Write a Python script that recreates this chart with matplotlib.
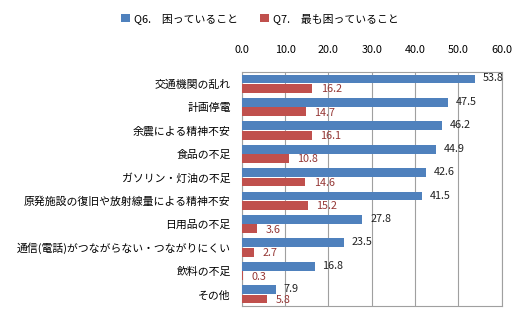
import matplotlib
matplotlib.use("Agg")
import matplotlib.pyplot as plt
import numpy as np

plt.rcParams['font.family'] = ['Noto Sans CJK JP', 'DejaVu Sans']

categories = ["交通機関の乱れ", "計画停電", "余震による精神不安", "食品の不足",
              "ガソリン・灯油の不足", "原発施設の復旧や放射線量による精神不安",
              "日用品の不足", "通信(電話)がつながらない・つながりにくい",
              "飲料の不足", "その他"]
q6 = [53.8, 47.5, 46.2, 44.9, 42.6, 41.5, 27.8, 23.5, 16.8, 7.9]
q7 = [16.2, 14.7, 16.1, 10.8, 14.6, 15.2, 3.6, 2.7, 0.3, 5.8]
series_names = ["Q6.　困っていること", "Q7.　最も困っていること"]
xticks = [0, 10, 20, 30, 40, 50, 60]

blue = "#4F81BD"
red = "#C0504D"

fig = plt.figure(figsize=(5.2, 3.33), dpi=100)
ax = fig.add_axes([0.465, 0.081, 0.5, 0.703])

y = np.arange(len(categories))
h = 0.38
b1 = ax.barh(y - 0.2, q6, height=h, color=blue, label=series_names[0], zorder=3)
b2 = ax.barh(y + 0.2, q7, height=h, color=red, label=series_names[1], zorder=3)

for yi, v in zip(y, q6):
    ax.text(v + 1.8, yi - 0.22, f"{v:.1f}", va="center", ha="left",
            fontsize=7.8, color="#222222")
for yi, v in zip(y, q7):
    ax.text(v + 2.0, yi + 0.24, f"{v:.1f}", va="center", ha="left",
            fontsize=7.8, color="#953735")

ax.set_xlim(0, 60)
ax.set_ylim(len(categories) - 0.5, -0.5)
ax.set_xticks(xticks)
ax.set_xticklabels([f"{t:.1f}" for t in xticks], fontsize=7.8)
ax.xaxis.tick_top()
ax.tick_params(axis="x", length=0, pad=12)
ax.set_yticks(y)
ax.set_yticklabels(categories, fontsize=7.8)
ax.tick_params(axis="y", length=0, pad=8)
ax.grid(axis="x", color="#a0a0a0", linewidth=0.8, zorder=0)
for s in ax.spines.values():
    s.set_color("#a0a0a0")
    s.set_linewidth(0.8)

fig.legend(handles=[b1, b2], loc="center", bbox_to_anchor=(0.5, 0.945), ncol=2,
           frameon=False, fontsize=7.8, handlelength=0.8, handleheight=0.8,
           columnspacing=2.0, handletextpad=0.4)

fig.savefig("out.png", dpi=100)
